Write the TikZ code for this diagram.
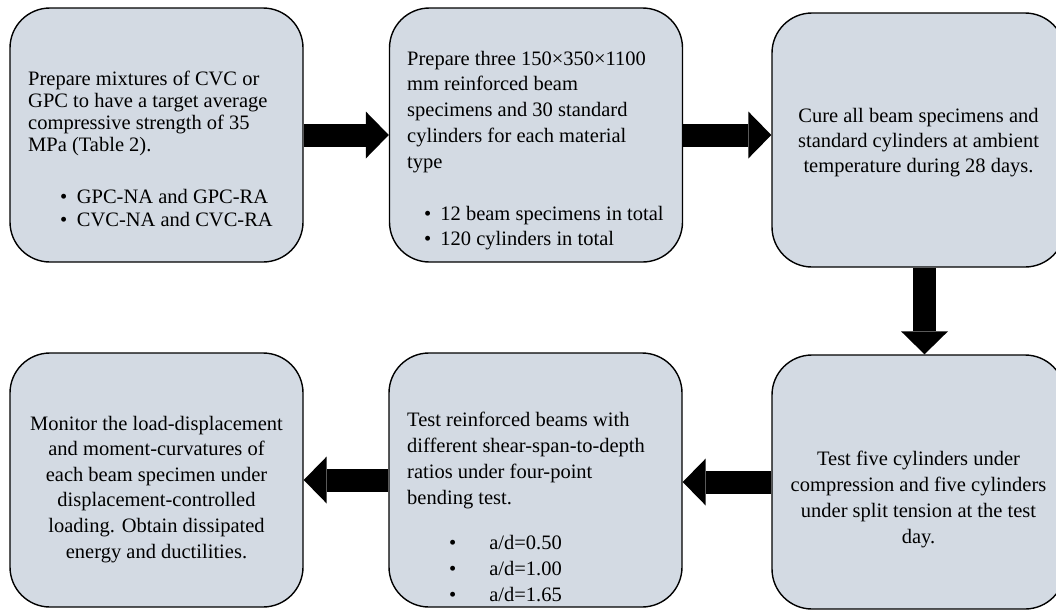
\documentclass[tikz,border=0pt]{standalone}
\usepackage{fontspec}
\setmainfont{Liberation Serif}
\definecolor{BoxGray}{RGB}{211, 218, 227}
\usepackage{tikz}
\usetikzlibrary{arrows.meta}

\begin{document}
\begin{tikzpicture}[x=1pt, y=-1pt,
  stage/.style={draw, fill=BoxGray, line width=1.4pt, rounded corners=40pt, minimum width=293pt, minimum height=254pt, inner sep=0pt},
  txt/.style={inner sep=0pt, font=\fontsize{20.5}{#1}\selectfont},
  flow/.style={line width=23pt, -{Triangle[width=47pt, length=23pt, line width=0pt]}}]
\clip (0,0) rectangle (1056,611);
\node[stage] (b1) at (156.5,135) {};
\node[stage] (b2) at (536,135) {};
\node[stage] (b3) at (918.5,140) {};
\node[stage] (b4) at (918.5,482) {};
\node[stage] (b5) at (535.5,480) {};
\node[stage] (b6) at (156.5,480) {};
\node[txt=21.7, anchor=base west, align=left] (t1) at (28,151) {Prepare mixtures of CVC or\\GPC to have a target average\\compressive strength of 35\\MPa (Table 2).};
\node[txt=23, anchor=base west, align=left] (l1) at (60,226) {\textbullet\hspace{9.5pt}GPC-NA and GPC-RA\\\textbullet\hspace{9.5pt}CVC-NA and CVC-RA};
\node[txt=25.7, anchor=base west, align=left] (t2) at (407,168) {Prepare three 150×350×1100\\mm reinforced beam\\specimens and 30 standard\\cylinders for each material\\type};
\node[txt=25, anchor=base west, align=left] (l2) at (424,245) {\textbullet\hspace{9pt}12 beam specimens in total\\\textbullet\hspace{9pt}120 cylinders in total};
\node[txt=25, anchor=base, align=center] (t3) at (918.5,172) {Cure all beam specimens and\\standard cylinders at ambient\\temperature during 28 days.};
\node[txt=25.7, anchor=base, align=center] (t4) at (918.5,543) {Test five cylinders under\\compression and five cylinders\\under split tension at the test\\day.};
\node[txt=26, anchor=base west, align=left] (t5) at (407,504) {Test reinforced beams with\\different shear-span-to-depth\\ratios under four-point\\bending test.};
\node[txt=26, anchor=base west, align=left] (l5) at (449,601) {\textbullet\hspace{33pt}a/d=0.50\\\textbullet\hspace{33pt}a/d=1.00\\\textbullet\hspace{33pt}a/d=1.65};
\node[txt=25.6, anchor=base, align=center] (t6) at (156.5,558) {Monitor the load-displacement\\and moment-curvatures of\\each beam specimen under\\displacement-controlled\\loading. Obtain dissipated\\energy and ductilities.};
\draw[flow] (b1.east) -- (b2.west);
\draw[flow] (b2.east) -- (b2.east -| b3.west);
\draw[flow] ([xshift=6pt]b3.south) -- ([xshift=6pt]b4.north);
\draw[flow] (b4.west) -- (b4.west -| b5.east);
\draw[flow] (b5.west) -- (b5.west -| b6.east);
\end{tikzpicture}
\end{document}
